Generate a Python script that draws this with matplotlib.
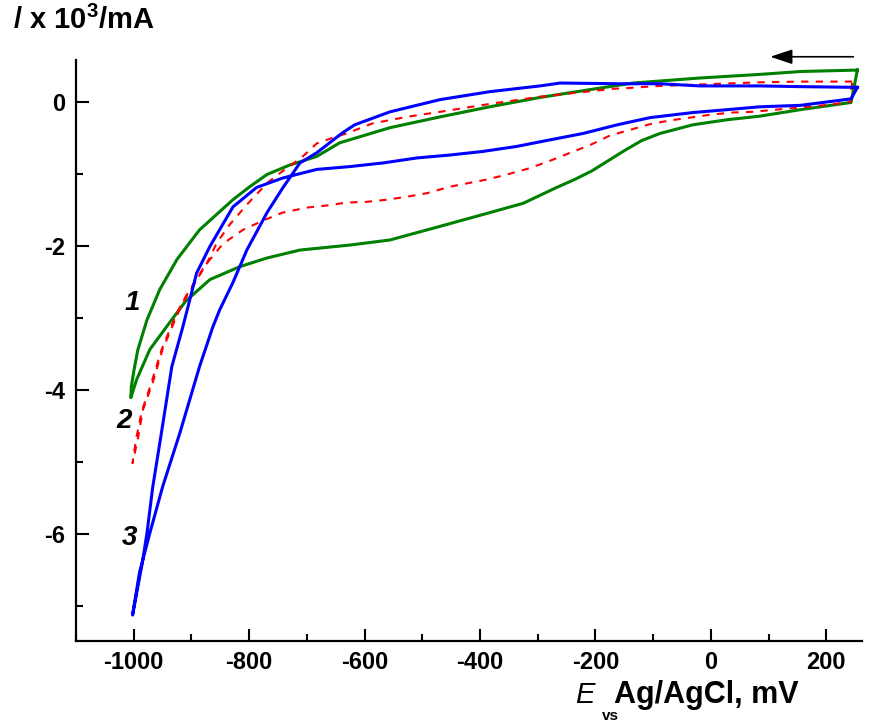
import matplotlib
matplotlib.use('Agg')
import matplotlib.pyplot as plt
from matplotlib.ticker import MultipleLocator

plt.rcParams['font.family'] = ['Liberation Sans', 'DejaVu Sans']
plt.rcParams['axes.unicode_minus'] = False
plt.rcParams['mathtext.fontset'] = 'custom'
plt.rcParams['mathtext.bf'] = 'Liberation Sans:bold'
plt.rcParams['mathtext.rm'] = 'Liberation Sans'
plt.rcParams['mathtext.default'] = 'bf'

# curve 1 (green): upper branch right->left, then lower branch back
E1 = [254, 155, 85, -19, -135, -192, -296, -383, -469, -556, -643, -683, -730,
      -769, -799, -828, -886, -925, -955, -977, -993, -1000, -1004, -1005,
      -995, -972, -938, -910, -868, -816, -769, -712, -625, -556, -469, -383,
      -325, -267, -236, -206, -178, -150, -120, -88, -31, 28, 85, 155, 243, 254]
I1 = [0.44, 0.42, 0.38, 0.33, 0.26, 0.19, 0.06, -0.07, -0.21, -0.36, -0.57, -0.76, -0.88,
      -1.01, -1.18, -1.36, -1.78, -2.19, -2.61, -3.03, -3.45, -3.75, -3.95, -4.11,
      -3.86, -3.44, -3.07, -2.77, -2.47, -2.29, -2.17, -2.06, -1.99, -1.92, -1.73, -1.54,
      -1.41, -1.19, -1.08, -0.96, -0.82, -0.68, -0.54, -0.44, -0.32, -0.25, -0.20, -0.11, -0.01, 0.44]

# curve 2 (red dashed)
E2 = [245, 155, 85, -19, -88, -145, -169, -239, -296, -383, -469, -527, -586,
      -631, -655, -683, -707, -743, -769, -804, -834, -856, -873, -898, -915,
      -932, -950, -967, -984, -993, -1002,
      -1000, -995, -986, -970, -952, -934, -917, -898, -876, -845, -811, -773,
      -742, -700, -665, -631, -596, -561, -527, -492, -452, -388, -353, -317,
      -282, -244, -209, -175, -140, -105, -71, -36, -1, 37, 72, 140, 207, 242, 245]
I2 = [0.28, 0.28, 0.27, 0.24, 0.22, 0.19, 0.18, 0.12, 0.07, -0.03, -0.14, -0.21, -0.30,
      -0.44, -0.50, -0.58, -0.76, -0.97, -1.13, -1.43, -1.71, -1.96, -2.24, -2.57, -2.79,
      -3.10, -3.44, -3.90, -4.28, -4.69, -5.02,
      -4.90, -4.65, -4.30, -3.92, -3.45, -3.10, -2.80, -2.55, -2.27, -1.97, -1.78, -1.64,
      -1.54, -1.47, -1.44, -1.40, -1.39, -1.36, -1.32, -1.27, -1.18, -1.08, -1.01, -0.93,
      -0.83, -0.71, -0.60, -0.47, -0.39, -0.31, -0.26, -0.22, -0.18, -0.15, -0.14, -0.09, -0.04, 0.00, 0.28]

# curve 3 (blue)
E3 = [254, 155, 85, -19, -88, -157, -261, -296, -383, -469, -556, -617, -638,
      -683, -712, -742, -769, -804, -828, -851, -863, -886, -920, -950, -972, -990, -1002,
      -985, -977, -967, -952, -934, -915, -891, -868, -828, -787, -742, -683, -625,
      -568, -509, -452, -395, -336, -279, -221, -162, -105, -31, 28, 85, 155, 243, 254]
I3 = [0.20, 0.21, 0.22, 0.22, 0.25, 0.25, 0.26, 0.22, 0.14, 0.03, -0.14, -0.32, -0.43,
      -0.71, -0.85, -1.20, -1.54, -2.06, -2.51, -2.89, -3.13, -3.68, -4.60, -5.35, -5.99, -6.54, -7.13,
      -6.40, -5.99, -5.35, -4.60, -3.68, -3.13, -2.38, -2.01, -1.46, -1.19, -1.06, -0.94, -0.90,
      -0.85, -0.78, -0.74, -0.69, -0.62, -0.53, -0.44, -0.32, -0.22, -0.15, -0.11, -0.07, -0.05, 0.04, 0.20]

curve_labels = ['1', '2', '3']
label_E = [-1002, -1017, -1007]
label_I = [-2.79, -4.44, -6.06]

W, H = 878, 725
fig = plt.figure(figsize=(W / 100, H / 100), dpi=100)
ax = fig.add_axes([76 / W, 1 - 641 / H, (862 - 76) / W, (641 - 60) / H])

ax.plot(E1, I1, color='#008000', lw=2.2)
ax.plot(E2, I2, color='#ff0000', lw=1.5, dashes=(3.5, 3.5))
ax.plot(E3, I3, color='#0000ff', lw=2.2)

for t, x, y in zip(curve_labels, label_E, label_I):
    ax.text(x, y, t, fontsize=20, fontweight='bold', fontstyle='italic',
            ha='center', va='center')

ax.annotate('', xy=(103, 0.625), xytext=(247, 0.625), annotation_clip=False,
            arrowprops=dict(arrowstyle='-|>,head_length=0.9,head_width=0.3',
                            color='black', lw=1.2, mutation_scale=15,
                            shrinkA=0, shrinkB=0))

ax.set_xlim(-1100, 262)
ax.set_ylim(-7.49, 0.58)
ax.xaxis.set_major_locator(MultipleLocator(200))
ax.xaxis.set_minor_locator(MultipleLocator(100))
ax.yaxis.set_major_locator(MultipleLocator(2))
ax.yaxis.set_minor_locator(MultipleLocator(1))

for s in ['top', 'right']:
    ax.spines[s].set_visible(False)
for s in ['left', 'bottom']:
    ax.spines[s].set_linewidth(1.6)

ax.tick_params(which='major', direction='in', length=9, width=1.5, pad=7,
               labelsize=17)
ax.tick_params(which='minor', direction='in', length=5, width=1.5)
for lab in ax.get_xticklabels() + ax.get_yticklabels():
    lab.set_fontweight('bold')
ax.tick_params(axis='y', pad=8)

fig.text(13 / W, 1 - 29 / H, '/ x 10$^{3}$/mA', fontsize=21, fontweight='bold',
         ha='left', va='baseline')
fig.text(575 / W, 1 - 703 / H, 'E', fontsize=21, fontstyle='italic',
         ha='left', va='baseline')
fig.text(602 / W, 1 - 720 / H, 'vs', fontsize=11, fontweight='bold',
         ha='left', va='baseline')
fig.text(614 / W, 1 - 703 / H, 'Ag/AgCl, mV', fontsize=22, fontweight='bold',
         ha='left', va='baseline')

fig.savefig('out.png', dpi=100)
